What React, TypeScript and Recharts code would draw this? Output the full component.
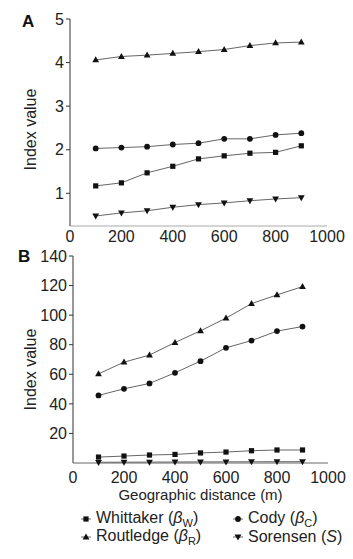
import React from 'react';
import { LineChart, Line, XAxis, YAxis } from 'recharts';

const distances = [100, 200, 300, 400, 500, 600, 700, 800, 900];
const xTicks = [0, 200, 400, 600, 800, 1000];

const whittakerA = [1.17, 1.24, 1.47, 1.62, 1.79, 1.86, 1.92, 1.94, 2.09];
const codyA = [2.03, 2.05, 2.07, 2.12, 2.15, 2.25, 2.25, 2.34, 2.38];
const routledgeA = [4.06, 4.14, 4.17, 4.21, 4.25, 4.3, 4.39, 4.45, 4.47];
const sorensenA = [0.48, 0.55, 0.6, 0.68, 0.74, 0.78, 0.83, 0.87, 0.9];
const yTicksA = [1, 2, 3, 4, 5];

const whittakerB = [4.0, 4.7, 5.4, 5.8, 6.8, 7.4, 8.3, 8.8, 8.8];
const codyB = [45.7, 50.2, 53.8, 61.0, 68.9, 77.9, 82.8, 89.2, 92.3];
const routledgeB = [60.3, 68.2, 73.0, 81.5, 89.4, 98.0, 107.8, 113.7, 119.3];
const sorensenB = [0.48, 0.55, 0.6, 0.68, 0.74, 0.78, 0.83, 0.87, 0.9];
const yTicksB = [20, 40, 60, 80, 100, 120, 140];

const dataA = distances.map((x, i) => ({ x, w: whittakerA[i], c: codyA[i], r: routledgeA[i], s: sorensenA[i] }));
const dataB = distances.map((x, i) => ({ x, w: whittakerB[i], c: codyB[i], r: routledgeB[i], s: sorensenB[i] }));

const FONT = '"Liberation Sans", Arial, sans-serif';
const LINE = '#666';
const MARK = '#111';

type Shape = 'square' | 'circle' | 'up' | 'down';

function markerEl(shape: Shape, cx: number, cy: number, key?: any) {
  if (shape === 'square') return <rect key={key} x={cx - 2.6} y={cy - 2.6} width={5.2} height={5.2} fill={MARK} />;
  if (shape === 'circle') return <circle key={key} cx={cx} cy={cy} r={2.9} fill={MARK} />;
  if (shape === 'up')
    return <polygon key={key} points={`${cx},${cy - 3.6} ${cx - 3.4},${cy + 2.4} ${cx + 3.4},${cy + 2.4}`} fill={MARK} />;
  return <polygon key={key} points={`${cx},${cy + 3.6} ${cx - 3.4},${cy - 2.4} ${cx + 3.4},${cy - 2.4}`} fill={MARK} />;
}

const makeDot = (shape: Shape) => (props: any) => {
  const { cx, cy, index } = props;
  if (cx == null || cy == null) return <g key={index} />;
  return markerEl(shape, cx, cy, index);
};

const tickStyle = { fill: '#222', fontSize: 16, fontFamily: FONT };

const yLabel = (dy: number) => (props: any) => {
  const vb = props.viewBox || {};
  const cx = 30;
  const cy = (vb.y || 0) + (vb.height || 0) / 2 + dy;
  return (
    <text
      x={cx}
      y={cy}
      transform={`rotate(-90, ${cx}, ${cy})`}
      textAnchor="middle"
      dominantBaseline="central"
      fontSize={16}
      fontFamily={FONT}
      fill="#222"
    >
      Index value
    </text>
  );
};

const series: { key: 'w' | 'c' | 'r' | 's'; shape: Shape }[] = [
  { key: 'r', shape: 'up' },
  { key: 'c', shape: 'circle' },
  { key: 'w', shape: 'square' },
  { key: 's', shape: 'down' },
];

const legendItems: { shape: Shape; name: string; sub?: string; italic?: string }[] = [
  { shape: 'square', name: 'Whittaker', sub: 'W' },
  { shape: 'circle', name: 'Cody', sub: 'C' },
  { shape: 'up', name: 'Routledge', sub: 'R' },
  { shape: 'down', name: 'Sorensen', italic: 'S' },
];

function LegendEntry({ item }: { item: (typeof legendItems)[number] }) {
  return (
    <div style={{ display: 'flex', alignItems: 'center', height: 18 }}>
      <svg width={14} height={12} style={{ marginRight: 2 }}>
        <line x1={1} y1={6} x2={11} y2={6} stroke={LINE} strokeWidth={1} />
        {markerEl(item.shape, 6, 6)}
      </svg>
      <span style={{ fontSize: 16, fontFamily: FONT, color: '#222', whiteSpace: 'nowrap' }}>
        {item.name} (
        {item.sub ? (
          <>
            <i style={{ fontFamily: FONT }}>β</i>
            <sub style={{ fontSize: 11 }}>{item.sub}</sub>
          </>
        ) : (
          <i>{item.italic}</i>
        )}
        )
      </span>
    </div>
  );
}

export default function App() {
  return (
    <div style={{ position: 'absolute', left: 0, top: 0, width: 353, height: 559, background: '#fff' }}>
      <div style={{ position: 'absolute', left: 0, top: 0 }}>
        <LineChart width={353} height={256} data={dataA} margin={{ top: 19, right: 26, left: 0, bottom: 0 }}>
          <XAxis
            dataKey="x"
            type="number"
            domain={[0, 1000]}
            ticks={xTicks}
            tickLine={false}
            tickSize={3}
            tickMargin={2}
            axisLine={{ stroke: '#aaa' }}
            tick={tickStyle}
            height={30}
          />
          <YAxis
            type="number"
            domain={[0.25, 5]}
            ticks={yTicksA}
            width={70}
            tickSize={4}
            tickMargin={2}
            axisLine={{ stroke: '#333' }}
            tickLine={{ stroke: '#333' }}
            tick={tickStyle}
            label={yLabel(7)}
          />
          {series.map((s) => (
            <Line
              key={s.key}
              dataKey={s.key}
              stroke={LINE}
              strokeWidth={1}
              dot={makeDot(s.shape)}
              activeDot={false}
              isAnimationActive={false}
            />
          ))}
        </LineChart>
      </div>
      <div
        style={{ position: 'absolute', left: 22, top: 12, fontFamily: FONT, fontWeight: 'bold', fontSize: 17, color: '#111' }}
      >
        A
      </div>

      <div style={{ position: 'absolute', left: 0, top: 236 }}>
        <LineChart width={353} height={280} data={dataB} margin={{ top: 20, right: 25, left: 0, bottom: 0 }}>
          <XAxis
            dataKey="x"
            type="number"
            domain={[0, 1000]}
            ticks={xTicks}
            tickLine={false}
            tickSize={6}
            tickMargin={3}
            axisLine={{ stroke: '#666' }}
            tick={tickStyle}
            height={53}
            label={{
              value: 'Geographic distance (m)',
              position: 'insideBottom',
              offset: 16,
              style: { fill: '#222', fontSize: 15, fontFamily: FONT },
            }}
          />
          <YAxis
            type="number"
            domain={[0, 140]}
            ticks={yTicksB}
            width={73}
            tickSize={4}
            tickMargin={2}
            axisLine={{ stroke: '#333' }}
            tickLine={{ stroke: '#333' }}
            tick={tickStyle}
            label={yLabel(10)}
          />
          {series.map((s) => (
            <Line
              key={s.key}
              dataKey={s.key}
              stroke={LINE}
              strokeWidth={1}
              dot={makeDot(s.shape)}
              activeDot={false}
              isAnimationActive={false}
            />
          ))}
        </LineChart>
      </div>
      <div
        style={{ position: 'absolute', left: 18, top: 247, fontFamily: FONT, fontWeight: 'bold', fontSize: 17, color: '#111' }}
      >
        B
      </div>

      <div style={{ position: 'absolute', left: 80, top: 510, display: 'grid', gridTemplateColumns: '152px 120px' }}>
        {legendItems.map((it) => (
          <LegendEntry key={it.name} item={it} />
        ))}
      </div>
    </div>
  );
}
